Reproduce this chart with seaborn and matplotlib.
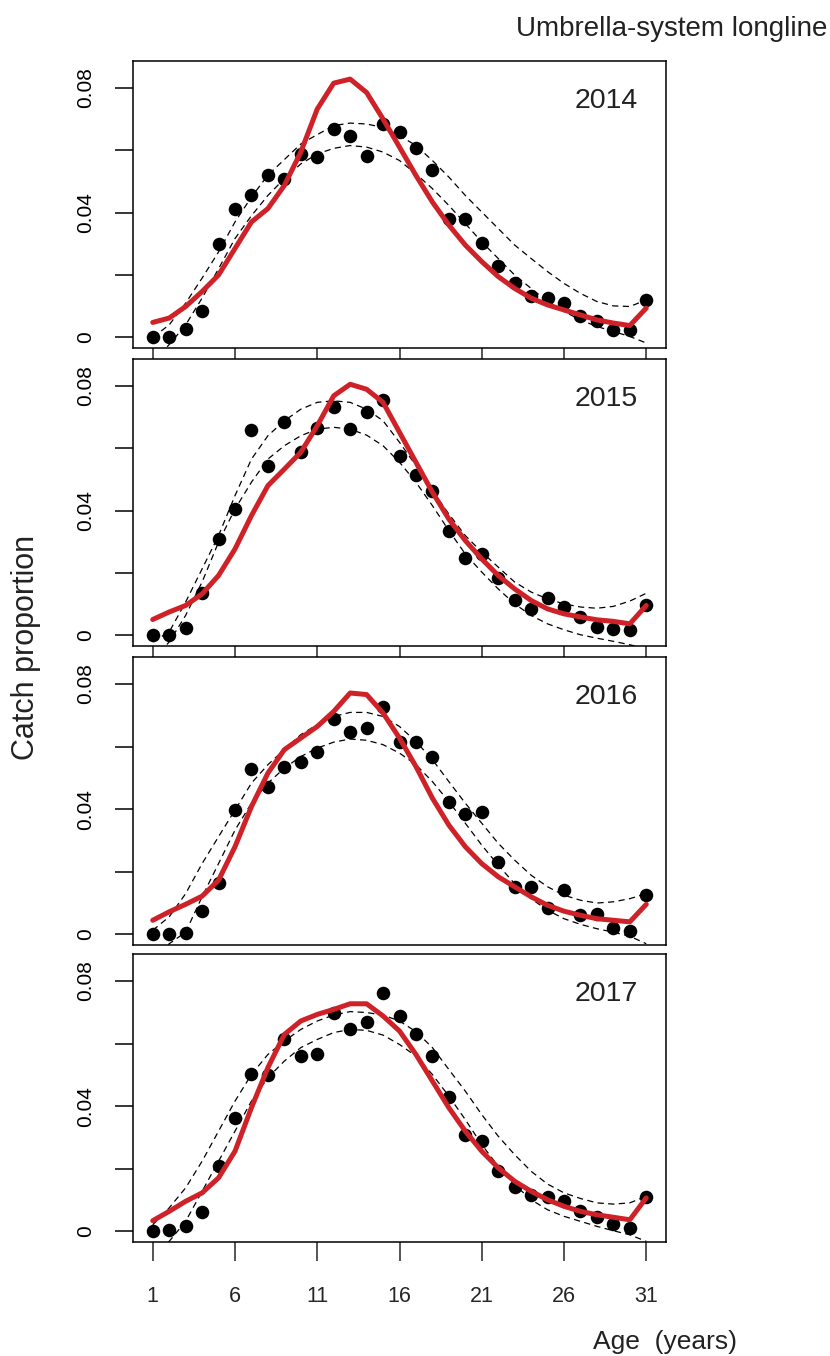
import matplotlib
matplotlib.use("Agg")
import matplotlib.pyplot as plt
import seaborn as sns
import pandas as pd

AGES = [1, 2, 3, 4, 5, 6, 7, 8, 9, 10, 11, 12, 13, 14, 15, 16,
        17, 18, 19, 20, 21, 22, 23, 24, 25, 26, 27, 28, 29, 30, 31]
YEARS = ["2014", "2015", "2016", "2017"]
X_TICKS = [1, 6, 11, 16, 21, 26, 31]
Y_TICKS = [0, 0.02, 0.04, 0.06, 0.08]
Y_TICK_LABELS = ["0", "", "0.04", "", "0.08"]

OBS_2014 = [0.0, 0.0, 0.0028, 0.0086, 0.0298, 0.0413, 0.0456, 0.0521, 0.0509, 0.0588,
            0.0577, 0.0669, 0.0644, 0.0583, 0.0685, 0.0657, 0.0606, 0.0537, 0.0381, 0.0381,
            0.0303, 0.0230, 0.0173, 0.0133, 0.0126, 0.0110, 0.0070, 0.0051, 0.0024, 0.0024, 0.0120]
FIT_2014 = [0.0048, 0.0062, 0.0099, 0.0147, 0.0200, 0.0285, 0.0370, 0.0413, 0.0487, 0.0594,
            0.0732, 0.0815, 0.0828, 0.0785, 0.0700, 0.0610, 0.0519, 0.0434, 0.0360, 0.0296,
            0.0243, 0.0195, 0.0157, 0.0126, 0.0104, 0.0088, 0.0072, 0.0056, 0.0046, 0.0038, 0.0094]
UPPER_2014 = [0.0, 0.0040, 0.0110, 0.0190, 0.0274, 0.0370, 0.0450, 0.0520, 0.0570, 0.0620,
              0.0650, 0.0679, 0.0687, 0.0684, 0.0673, 0.0647, 0.0615, 0.0567, 0.0514, 0.0455,
              0.0402, 0.0349, 0.0296, 0.0253, 0.0211, 0.0173, 0.0141, 0.0115, 0.0101, 0.0099, 0.0120]
LOWER_2014 = [-0.0080, -0.0023, 0.0040, 0.0126, 0.0220, 0.0317, 0.0390, 0.0455, 0.0509, 0.0556,
              0.0588, 0.0606, 0.0615, 0.0610, 0.0594, 0.0567, 0.0524, 0.0477, 0.0423, 0.0365,
              0.0306, 0.0253, 0.0200, 0.0157, 0.0115, 0.0083, 0.0056, 0.0035, 0.0019, 0.0003, -0.0018]

OBS_2015 = [0.0, 0.0, 0.0023, 0.0137, 0.0309, 0.0405, 0.0659, 0.0544, 0.0683, 0.0587,
            0.0665, 0.0731, 0.0663, 0.0717, 0.0755, 0.0574, 0.0514, 0.0464, 0.0336, 0.0247,
            0.0261, 0.0183, 0.0115, 0.0085, 0.0119, 0.0091, 0.0059, 0.0027, 0.0021, 0.0016, 0.0096]
FIT_2015 = [0.0051, 0.0075, 0.0096, 0.0133, 0.0192, 0.0277, 0.0384, 0.0480, 0.0533, 0.0587,
            0.0672, 0.0768, 0.0805, 0.0789, 0.0747, 0.0651, 0.0555, 0.0459, 0.0373, 0.0304,
            0.0245, 0.0192, 0.0149, 0.0112, 0.0085, 0.0069, 0.0059, 0.0050, 0.0045, 0.0037, 0.0096]
UPPER_2015 = [-0.0021, 0.0011, 0.0107, 0.0213, 0.0320, 0.0448, 0.0565, 0.0640, 0.0688, 0.0725,
              0.0747, 0.0752, 0.0747, 0.0725, 0.0688, 0.0619, 0.0544, 0.0464, 0.0389, 0.0320,
              0.0267, 0.0219, 0.0171, 0.0139, 0.0117, 0.0101, 0.0091, 0.0087, 0.0093, 0.0110, 0.0135]
LOWER_2015 = [-0.0080, -0.0021, 0.0064, 0.0171, 0.0299, 0.0405, 0.0491, 0.0565, 0.0608, 0.0640,
              0.0661, 0.0667, 0.0661, 0.0642, 0.0608, 0.0555, 0.0491, 0.0416, 0.0336, 0.0261,
              0.0203, 0.0149, 0.0101, 0.0064, 0.0037, 0.0018, 0.0002, -0.0009, -0.0019, -0.0030, -0.0043]

OBS_2016 = [0.0, 0.0, 0.0004, 0.0074, 0.0164, 0.0396, 0.0529, 0.0470, 0.0534, 0.0549,
            0.0584, 0.0688, 0.0648, 0.0659, 0.0726, 0.0616, 0.0614, 0.0568, 0.0424, 0.0385,
            0.0390, 0.0232, 0.0152, 0.0150, 0.0084, 0.0141, 0.0061, 0.0064, 0.0021, 0.0010, 0.0125]
FIT_2016 = [0.0045, 0.0072, 0.0096, 0.0122, 0.0173, 0.0280, 0.0408, 0.0515, 0.0590, 0.0627,
            0.0664, 0.0712, 0.0771, 0.0766, 0.0707, 0.0627, 0.0536, 0.0435, 0.0349, 0.0280,
            0.0226, 0.0184, 0.0152, 0.0120, 0.0093, 0.0074, 0.0061, 0.0050, 0.0045, 0.0040, 0.0096]
UPPER_2016 = [0.0013, 0.0056, 0.0130, 0.0226, 0.0312, 0.0397, 0.0483, 0.0542, 0.0590, 0.0638,
              0.0670, 0.0696, 0.0709, 0.0709, 0.0696, 0.0664, 0.0616, 0.0558, 0.0488, 0.0419,
              0.0355, 0.0291, 0.0237, 0.0189, 0.0152, 0.0125, 0.0109, 0.0100, 0.0104, 0.0114, 0.0130]
LOWER_2016 = [-0.0080, -0.0030, 0.0007, 0.0120, 0.0226, 0.0333, 0.0419, 0.0483, 0.0531, 0.0568,
              0.0595, 0.0614, 0.0624, 0.0620, 0.0606, 0.0579, 0.0542, 0.0488, 0.0424, 0.0355,
              0.0285, 0.0221, 0.0162, 0.0114, 0.0077, 0.0050, 0.0032, 0.0018, 0.0007, -0.0006, -0.0030]

OBS_2017 = [0.0, 0.0005, 0.0016, 0.0062, 0.0208, 0.0363, 0.0503, 0.0499, 0.0613, 0.0560,
            0.0567, 0.0699, 0.0645, 0.0670, 0.0763, 0.0688, 0.0629, 0.0560, 0.0429, 0.0307,
            0.0288, 0.0192, 0.0142, 0.0117, 0.0109, 0.0098, 0.0064, 0.0045, 0.0023, 0.0011, 0.0109]
FIT_2017 = [0.0034, 0.0064, 0.0096, 0.0123, 0.0171, 0.0256, 0.0395, 0.0523, 0.0629, 0.0672,
            0.0693, 0.0709, 0.0727, 0.0727, 0.0688, 0.0640, 0.0565, 0.0480, 0.0395, 0.0320,
            0.0256, 0.0203, 0.0160, 0.0128, 0.0101, 0.0080, 0.0064, 0.0053, 0.0045, 0.0037, 0.0107]
UPPER_2017 = [0.0021, 0.0075, 0.0139, 0.0224, 0.0320, 0.0416, 0.0501, 0.0565, 0.0608, 0.0645,
              0.0672, 0.0691, 0.0702, 0.0699, 0.0691, 0.0672, 0.0638, 0.0587, 0.0517, 0.0448,
              0.0373, 0.0304, 0.0245, 0.0192, 0.0151, 0.0123, 0.0105, 0.0091, 0.0087, 0.0091, 0.0112]
LOWER_2017 = [-0.0080, -0.0032, 0.0032, 0.0128, 0.0224, 0.0320, 0.0416, 0.0491, 0.0544, 0.0587,
              0.0613, 0.0635, 0.0645, 0.0642, 0.0627, 0.0597, 0.0560, 0.0501, 0.0432, 0.0357,
              0.0277, 0.0208, 0.0149, 0.0101, 0.0069, 0.0048, 0.0032, 0.0016, 0.0002, -0.0011, -0.0032]

OBS = [OBS_2014, OBS_2015, OBS_2016, OBS_2017]
FIT = [FIT_2014, FIT_2015, FIT_2016, FIT_2017]
UPPER = [UPPER_2014, UPPER_2015, UPPER_2016, UPPER_2017]
LOWER = [LOWER_2014, LOWER_2015, LOWER_2016, LOWER_2017]

sns.set_style("ticks")
plt.rcParams["font.family"] = ["Liberation Sans", "DejaVu Sans"]

W, H = 830, 1356
fig = plt.figure(figsize=(W / 100, H / 100), dpi=100)

LEFT, RIGHT = 133, 666
PANELS = [(61, 348), (359, 646), (657, 945), (954, 1242)]
RED = "#CF2228"

for i, (top, bot) in enumerate(PANELS):
    ax = fig.add_axes([LEFT / W, 1 - bot / H, (RIGHT - LEFT) / W, (bot - top) / H])
    df = pd.DataFrame({"age": AGES, "obs": OBS[i], "fit": FIT[i],
                       "upper": UPPER[i], "lower": LOWER[i]})
    sns.scatterplot(data=df, x="age", y="obs", ax=ax, color="black", s=95,
                    linewidth=0, zorder=3)
    for col in ["upper", "lower"]:
        sns.lineplot(data=df, x="age", y=col, ax=ax, color="black", linewidth=0.9,
                     dashes=False, zorder=2).lines[-1].set_dashes([5, 3.5])
    sns.lineplot(data=df, x="age", y="fit", ax=ax, color=RED, linewidth=3.6, zorder=4)
    ax.set_xlim(-0.2, 32.2)
    ax.set_ylim(-0.0034, 0.0886)
    ax.set_xlabel("")
    ax.set_ylabel("")
    ax.set_yticks(Y_TICKS)
    ax.set_yticklabels(Y_TICK_LABELS, rotation=90, va="center", fontsize=15)
    ax.set_xticks(X_TICKS)
    for sp in ax.spines.values():
        sp.set_visible(True)
        sp.set_linewidth(1.1)
        sp.set_color("black")
    ax.tick_params(axis="y", direction="out", length=13, width=1.1, pad=14, colors="black")
    if i == 3:
        ax.set_xticklabels([str(t) for t in X_TICKS], fontsize=15.5)
        ax.tick_params(axis="x", direction="out", length=14, width=1.1, pad=18)
    elif i == 2:
        ax.tick_params(axis="x", length=0, labelbottom=False)
    else:
        ax.tick_params(axis="x", direction="out", length=14, width=1.1, labelbottom=False)
    ax.text(0.888, 0.862, YEARS[i], transform=ax.transAxes, ha="center", va="center",
            fontsize=20.5, color="#222222")

fig.text(671.5 / W, 1 - 36 / H, "Umbrella-system longline", ha="center", va="baseline",
         fontsize=20, color="#222222")
fig.text(26 / W, 1 - 647.5 / H, "Catch proportion", ha="center", va="center",
         rotation=90, fontsize=22, color="#222222")
fig.text(665 / W, 1 - 1349 / H, "Age  (years)", ha="center", va="baseline",
         fontsize=19, color="#222222")

fig.savefig("out.png", dpi=100)
